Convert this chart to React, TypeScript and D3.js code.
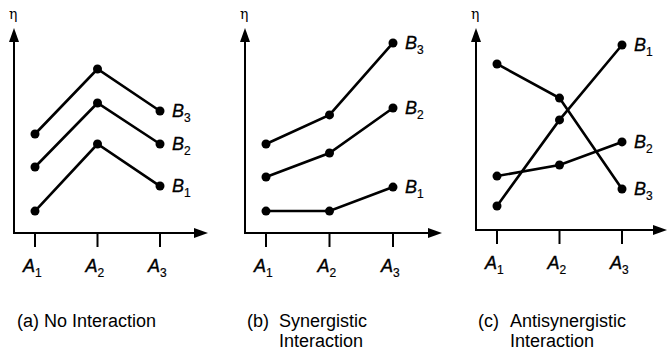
import React from "react";
import { scaleLinear, scalePoint, line } from "d3";

const levels = ["A1", "A2", "A3"];
const seriesNames = ["B1", "B2", "B3"];

// values (eta units, 0 = x axis)
const noInteraction = [
  [1.07, 4.34, 2.29],
  [3.22, 6.34, 4.34],
  [4.83, 8.0, 5.95],
];
const synergistic = [
  [1.07, 1.07, 2.24],
  [2.73, 3.9, 6.1],
  [4.34, 5.76, 9.27],
];
const antisynergistic = [
  [1.19, 5.45, 9.16],
  [2.67, 3.22, 4.36],
  [8.22, 6.53, 2.03],
];

const captionTags = ["(a)", "(b)", "(c)"];
const captionTitles = [["No Interaction"], ["Synergistic", "Interaction"], ["Antisynergistic", "Interaction"]];

const panels = [
  { data: noInteraction, axisX: 14, x0: 35, x1: 160, arrowEnd: 208, base: 233, tagX: 17, titleX: 44 },
  { data: synergistic, axisX: 245, x0: 266, x1: 393, arrowEnd: 442, base: 233, tagX: 247, titleX: 279 },
  { data: antisynergistic, axisX: 476, x0: 497, x1: 622, arrowEnd: 667, base: 230, tagX: 478, titleX: 510 },
];

const font = "'Liberation Sans', Arial, Helvetica, sans-serif";

function Panel({ p, i }: any) {
  const x = scalePoint<string>().domain(levels).range([p.x0, p.x1]);
  const y = scaleLinear().domain([0, 10]).range([p.base, 28]);
  const path = line<number>()
    .x((d, j) => x(levels[j]) as number)
    .y((d) => y(d));
  const top = 28;
  return (
    <g>
      {/* axes */}
      <line x1={p.axisX} x2={p.axisX} y1={p.base} y2={top + 10} stroke="#000" strokeWidth={2} />
      <path d={`M${p.axisX},${top} L${p.axisX - 5},${top + 14} L${p.axisX + 5},${top + 14} Z`} fill="#000" />
      <line x1={p.axisX - 1} x2={p.arrowEnd - 10} y1={p.base} y2={p.base} stroke="#000" strokeWidth={2} />
      <path
        d={`M${p.arrowEnd},${p.base} L${p.arrowEnd - 14},${p.base - 5} L${p.arrowEnd - 14},${p.base + 5} Z`}
        fill="#000"
      />
      <text x={p.axisX - 5} y={19} fontFamily="'DejaVu Serif', serif" fontSize={14}>
        η
      </text>
      {levels.map((l) => (
        <g key={l}>
          <line x1={x(l)} x2={x(l)} y1={p.base} y2={p.base + 14} stroke="#000" strokeWidth={2} />
          <text
            x={(x(l) as number) - 12}
            y={p.base + 39}
            fontFamily={font}
            fontSize={18}
            fontStyle="italic"
            stroke="#000"
            strokeWidth={0.4}
          >
            A
            <tspan fontSize={12} fontStyle="normal" strokeWidth={0.2} dy={5}>
              {l.slice(1)}
            </tspan>
          </text>
        </g>
      ))}
      {p.data.map((s: number[], k: number) => (
        <g key={k}>
          <path d={path(s) || ""} fill="none" stroke="#000" strokeWidth={2.6} />
          {s.map((v, j) => (
            <circle key={j} cx={x(levels[j])} cy={y(v)} r={4.5} fill="#000" />
          ))}
          <text
            x={(x(levels[2]) as number) + 12}
            y={y(s[2]) + 6}
            fontFamily={font}
            fontSize={18}
            fontStyle="italic"
            stroke="#000"
            strokeWidth={0.3}
          >
            B
            <tspan fontSize={12} fontStyle="normal" strokeWidth={0.2} dy={5}>
              {seriesNames[k].slice(1)}
            </tspan>
          </text>
        </g>
      ))}
      <text x={p.tagX} y={327} fontFamily={font} fontSize={18}>
        {captionTags[i]}
      </text>
      {captionTitles[i].map((t, k) => (
        <text key={k} x={p.titleX} y={327 + k * 20} fontFamily={font} fontSize={18}>
          {t}
        </text>
      ))}
    </g>
  );
}

export default function App() {
  return (
    <svg width={668} height={354} style={{ position: "absolute", left: 0, top: 0, background: "#fff" }}>
      {panels.map((p, i) => (
        <Panel key={i} p={p} i={i} />
      ))}
    </svg>
  );
}
